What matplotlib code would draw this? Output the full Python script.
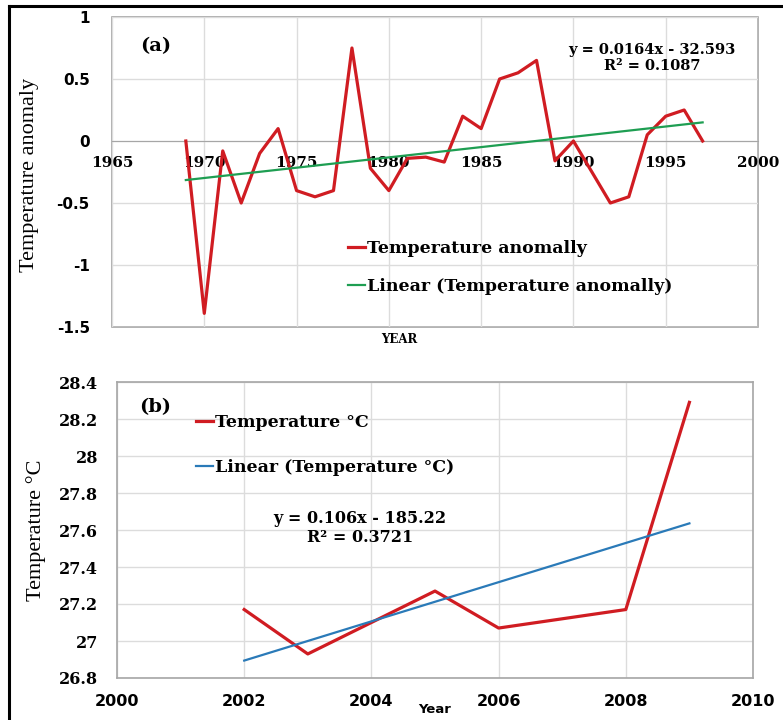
import matplotlib
matplotlib.use("Agg")
import matplotlib.pyplot as plt
from matplotlib.lines import Line2D
import numpy as np

# annual temperature anomaly, 1969-1997
years_a = list(range(1969, 1998))
anomaly = [0, -1.39, -0.08, -0.5, -0.1, 0.1, -0.4, -0.45, -0.4, 0.75,
           -0.22, -0.4, -0.14, -0.13, -0.17, 0.2, 0.1, 0.5, 0.55, 0.65,
           -0.16, 0, -0.25, -0.5, -0.45, 0.05, 0.2, 0.25, 0]

# mean temperature, 2002-2009
years_b = list(range(2002, 2010))
temp_c = [27.17, 26.93, 27.10, 27.27, 27.07, 27.12, 27.17, 28.29]

eq_a = "y = 0.0164x - 32.593\nR\u00b2 = 0.1087"
eq_b = "y = 0.106x - 185.22\nR\u00b2 = 0.3721"

RED = '#d01c22'
GREEN = '#1e9e52'
BLUE = '#2a7ab8'
GRID = '#dcdcdc'
FRAME = '#a6a6a6'
SERIF = 'DejaVu Serif'
SANS = 'DejaVu Sans'

W, H = 783, 720
fig = plt.figure(figsize=(W / 100, H / 100), dpi=100)

def box(l, t, r, b):
    return [l / W, 1 - b / H, (r - l) / W, (b - t) / H]

# ---- (a) temperature anomaly ----
ax1 = fig.add_axes(box(112, 17, 758, 327))
fit_a = np.polyfit(years_a, anomaly, 1)
ax1.plot(years_a, anomaly, color=RED, lw=2.3, label='Temperature anomally', zorder=3)
ax1.plot(years_a, np.polyval(fit_a, years_a), color=GREEN, lw=1.6,
         label='Linear (Temperature anomally)', zorder=4)
ax1.set_xlim(1965, 2000)
ax1.set_ylim(-1.5, 1)
ax1.set_xticks(range(1965, 2001, 5))
ax1.set_yticks(np.arange(-1.5, 1.01, 0.5))
ax1.set_yticklabels(['-1.5', '-1', '-0.5', '0', '0.5', '1'])
ax1.grid(True, color=GRID, lw=1)
ax1.set_axisbelow(True)
for s in ['top', 'right', 'left']:
    ax1.spines[s].set_visible(False)
ax1.spines['bottom'].set_position(('data', 0))
ax1.spines['bottom'].set_color(FRAME)
ax1.patch.set_edgecolor(FRAME)
ax1.patch.set_linewidth(1.2)
ax1.tick_params(length=0)
ax1.tick_params(axis='x', pad=11)
ax1.tick_params(axis='y', pad=16)
for t in ax1.get_xticklabels():
    t.set_fontfamily(SERIF); t.set_fontweight('bold'); t.set_fontsize(11)
for t in ax1.get_yticklabels():
    t.set_fontfamily(SANS); t.set_fontweight('bold'); t.set_fontsize(11)
ax1.text(-0.127, 0.49, 'Temperature anomaly', transform=ax1.transAxes, rotation=90,
         ha='center', va='center', family='Liberation Serif', fontsize=16)
ax1.text(0.444, -0.04, 'YEAR', transform=ax1.transAxes, ha='center', va='center',
         family=SERIF, fontweight='bold', fontsize=8.5)
ax1.text(0.043, 0.905, '(a)', transform=ax1.transAxes, ha='left', va='center',
         family=SERIF, fontweight='bold', fontsize=14)
ax1.text(0.836, 0.867, eq_a, transform=ax1.transAxes, ha='center', va='center',
         family=SERIF, fontweight='bold', fontsize=10.5, linespacing=1.2)
ax1.legend(loc='upper left', bbox_to_anchor=(0.365, 0.281), frameon=False,
           borderpad=0, borderaxespad=0, handlelength=1.0, handletextpad=0.1,
           labelspacing=1.2, prop={'family': SERIF, 'weight': 'bold', 'size': 12.5})

# ---- (b) temperature ----
ax2 = fig.add_axes(box(117, 382, 753, 678))
fit_b = np.polyfit(years_b, temp_c, 1)
ax2.plot(years_b, temp_c, color=RED, lw=2.3, label='Temperature \u00b0C', zorder=3)
ax2.plot(years_b, np.polyval(fit_b, years_b), color=BLUE, lw=1.6,
         label='Linear (Temperature \u00b0C)', zorder=4)
ax2.set_xlim(2000, 2010)
ax2.set_ylim(26.8, 28.4)
ax2.set_xticks(range(2000, 2011, 2))
ax2.set_yticks(np.arange(26.8, 28.41, 0.2))
ax2.set_yticklabels(['26.8', '27', '27.2', '27.4', '27.6', '27.8', '28', '28.2', '28.4'])
ax2.grid(True, color=GRID, lw=1)
ax2.set_axisbelow(True)
for s in ax2.spines.values():
    s.set_color(FRAME)
    s.set_linewidth(1.2)
ax2.tick_params(length=0)
ax2.tick_params(axis='x', pad=11.5)
ax2.tick_params(axis='y', pad=13.7)
for t in ax2.get_xticklabels():
    t.set_fontfamily(SANS); t.set_fontweight('bold'); t.set_fontsize(11.5)
for t in ax2.get_yticklabels():
    t.set_fontfamily(SERIF); t.set_fontweight('bold'); t.set_fontsize(11.5)
ax2.text(-0.128, 0.5, 'Temperature \u00b0C', transform=ax2.transAxes, rotation=90,
         ha='center', va='center', family='Liberation Serif', fontsize=16)
ax2.text(0.5, -0.108, 'Year', transform=ax2.transAxes, ha='center', va='center',
         family=SANS, fontweight='bold', fontsize=9.5)
ax2.text(0.035, 0.915, '(b)', transform=ax2.transAxes, ha='left', va='center',
         family=SERIF, fontweight='bold', fontsize=14)
ax2.text(0.382, 0.507, eq_b, transform=ax2.transAxes, ha='center', va='center',
         family=SERIF, fontweight='bold', fontsize=11.5, linespacing=1.15)
ax2.legend(loc='upper left', bbox_to_anchor=(0.124, 0.892), frameon=False,
           borderpad=0, borderaxespad=0, handlelength=1.0, handletextpad=0.1,
           labelspacing=1.63, prop={'family': SERIF, 'weight': 'bold', 'size': 12.5})

# outer border on the left and top
fig.add_artist(Line2D([9 / W, 9 / W], [0, 1 - 6 / H], color='black', lw=2.2,
                      transform=fig.transFigure))
fig.add_artist(Line2D([9 / W, 1], [1 - 6 / H, 1 - 6 / H], color='black', lw=2.2,
                      transform=fig.transFigure))

fig.savefig('out.png', dpi=100)
